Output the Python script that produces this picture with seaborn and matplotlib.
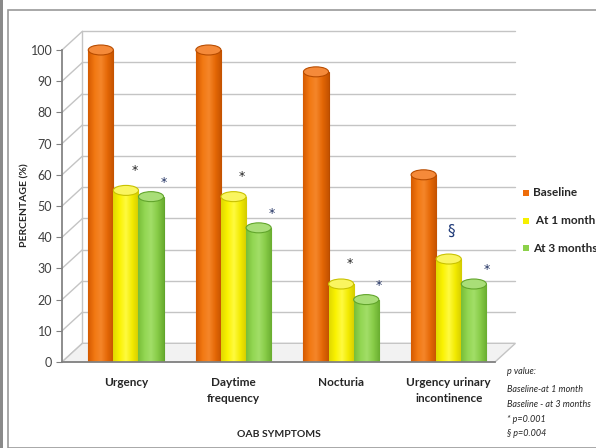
import numpy as np
import pandas as pd
import matplotlib
matplotlib.use("Agg")
import matplotlib.pyplot as plt
import seaborn as sns
from matplotlib.patches import Ellipse, Polygon, Rectangle
from matplotlib.colors import LinearSegmentedColormap

categories = ["Urgency", "Daytime\nfrequency", "Nocturia", "Urgency urinary\nincontinence"]
series_names = ["Baseline", "At 1 month", "At 3 months"]
baseline = [100, 100, 93, 60]
month1 = [55, 53, 25, 33]
month3 = [53, 43, 20, 25]
marks1 = ["*", "*", "*", "§"]
marks3 = ["*", "*", "*", "*"]
yticks = [0, 10, 20, 30, 40, 50, 60, 70, 80, 90, 100]
note_lines = ["p value:", "Baseline-at 1 month", "Baseline - at 3 months", "* p=0.001", "§ p=0.004"]

colors = ["#EE6C0A", "#F6F000", "#8CD14A"]
edge_colors = ["#B84C00", "#C9C200", "#62A52C"]
cap_colors = ["#F58A3A", "#FAF560", "#A9DE78"]
shade = [["#D55A00", "#F27812", "#F5862A", "#E56806", "#C45200"],
         ["#E0D800", "#FAF200", "#FFFA40", "#F2EA00", "#D4CC00"],
         ["#78BE38", "#92D652", "#A2DE68", "#88CC48", "#6AAE30"]]

sns.set_theme(style="white")
plt.rcParams["font.family"] = ["Lato", "DejaVu Sans"]

df = pd.DataFrame({
    "cat": np.repeat(categories, 3),
    "series": series_names * len(categories),
    "value": np.ravel(np.column_stack([baseline, month1, month3])),
})

fig = plt.figure(figsize=(5.96, 4.48), dpi=100)
ax = fig.add_axes([62 / 596, 86 / 448, 433 / 596, 312 / 448])

# outer frame
fig.patches.append(Rectangle((8 / 596, 0), 1, 438 / 448, transform=fig.transFigure,
                             fill=False, edgecolor="#9a9a9a", lw=1.2))
fig.patches.append(Rectangle((0, 0), 3 / 596, 1, transform=fig.transFigure,
                             facecolor="#8a8a8a", edgecolor="none"))

xl, xr = -0.594, 3.43
dx, dy = 0.19, 6.0

sns.barplot(data=df, x="cat", y="value", hue="series", palette=colors, width=0.7,
            ax=ax, legend=False, zorder=2, linewidth=0.8, saturation=1)

# 3D-style wall gridlines and floor
for v in yticks:
    ax.plot([xl, xl + dx], [v, v + dy], color="#c4c4c4", lw=1, clip_on=False, zorder=0)
    if v > 0:
        ax.plot([xl + dx, xr + dx], [v + dy, v + dy], color="#c4c4c4", lw=1, clip_on=False, zorder=0)
ax.add_patch(Polygon([[xl, 0], [xr, 0], [xr + dx, dy], [xl + dx, dy]], closed=True,
                     facecolor="#f2f2f2", edgecolor="#c4c4c4", lw=1, clip_on=False, zorder=0))
ax.plot([xl + dx, xl + dx], [dy, 100 + dy], color="#c4c4c4", lw=1, clip_on=False, zorder=0)

grad = np.linspace(0, 1, 64).reshape(1, -1)

# shading, caps and marks
for i, cont in enumerate(ax.containers):
    cmap = LinearSegmentedColormap.from_list(f"s{i}", shade[i])
    for j, bar in enumerate(cont):
        bar.set_edgecolor(edge_colors[i])
        x0 = bar.get_x()
        w = bar.get_width()
        h = bar.get_height()
        im = ax.imshow(grad, cmap=cmap, aspect="auto", extent=[x0, x0 + w, 0, h],
                       zorder=2.1, interpolation="bilinear")
        im.set_clip_path(bar)
        ax.add_patch(Ellipse((x0 + w / 2, h), w, 3.2, facecolor=cap_colors[i],
                             edgecolor=edge_colors[i], lw=0.8, zorder=3, clip_on=False))
        if i == 1:
            m = marks1[j]
            if m == "§":
                ax.text(x0 + w / 2 + 0.02, h + 9, m, ha="center", va="center",
                        fontsize=11, color="#1F3A78", family=["DejaVu Sans"])
            else:
                ax.text(x0 + w / 2 + 0.08, h + 6.5, m, ha="center", va="center",
                        fontsize=9, color="#222222", family=["DejaVu Sans"])
        elif i == 2:
            ax.text(x0 + w / 2 + 0.12, h + 4.5, marks3[j], ha="center", va="center",
                    fontsize=9, color="#1F2F60", family=["DejaVu Sans"])

ax.set_xlim(xl, xr)
ax.set_ylim(0, 100)

ax.set_yticks(yticks)
ax.set_yticklabels([str(v) for v in yticks], fontsize=9, color="#404040")
ax.tick_params(axis="y", length=4, width=0.8, color="#808080", left=True, pad=3)
ax.tick_params(axis="x", length=0, pad=11)
ax.set_xticks(range(len(categories)))
ax.set_xticklabels(categories, fontsize=8.5, fontweight="bold", color="#262626", linespacing=1.5)
for s in ["top", "right"]:
    ax.spines[s].set_visible(False)
ax.spines["left"].set_color("#808080")
ax.spines["bottom"].set_color("#808080")
ax.spines["bottom"].set_bounds(xl, xr)

ax.set_xlabel("OAB SYMPTOMS", fontsize=7.5, fontweight="bold", color="#262626", labelpad=19)
ax.set_ylabel("")
fig.text(25 / 596, 1 - 205 / 448, "PERCENTAGE (%)", rotation=90, fontsize=7.5,
         fontweight="bold", color="#262626", ha="center", va="center")

# legend
ly = [193, 221, 248]
for k, name in enumerate(series_names):
    y = 1 - ly[k] / 448
    fig.patches.append(Rectangle((523 / 596, y - 3 / 448), 6 / 596, 6 / 448,
                                 transform=fig.transFigure, facecolor=colors[k], edgecolor="none"))
    fig.text(533 / 596, y, (" " if k == 1 else "") + name, fontsize=8.5, fontweight="bold",
             color="#262626", va="center", ha="left")

# p-value note
ny = [371, 389, 404, 419, 433]
for k, line in enumerate(note_lines):
    fig.text(507 / 596, 1 - ny[k] / 448, line, fontsize=6.5, style="italic",
             color="#262626", va="center", ha="left")

fig.savefig("out.png", dpi=100)
